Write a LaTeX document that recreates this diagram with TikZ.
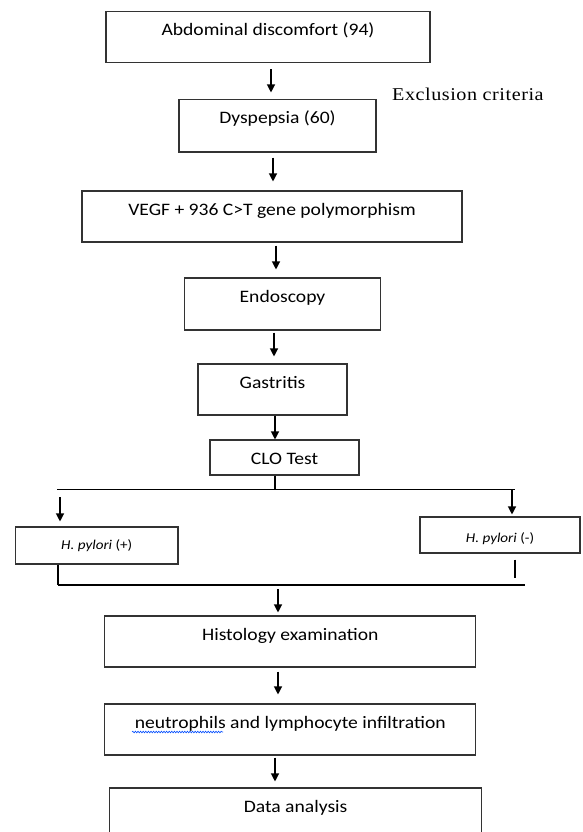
\documentclass[tikz,border=0pt]{standalone}
\usepackage{fontspec}
\setmainfont{Carlito}[FakeStretch=1.12]
\newfontfamily\exclfont{Liberation Serif}[FakeStretch=1.12,LetterSpace=3]
\usetikzlibrary{arrows.meta,decorations.pathmorphing}
\begin{document}
\begin{tikzpicture}[x=1pt,y=-1pt,
  box/.style={draw=black!80,line width=1.1pt,rectangle,inner xsep=0pt,inner ysep=0pt,
    minimum height=0pt,text height=24pt,text depth=27pt,
    font=\fontsize{17.5}{20}\selectfont,text=black},
  smallbox/.style={box,font=\fontsize{13.5}{16}\selectfont},
  conn/.style={draw=black,line width=1.2pt},
  arr/.style={conn,-{Triangle[length=8pt,width=8pt]}},
  wavy/.style={draw=blue!70!cyan,line width=0.6pt,decorate,
    decoration={snake,amplitude=0.8pt,segment length=2.6pt}}]
\useasboundingbox (0,0) rectangle (582,832);
\fill[white] (0,0) rectangle (582,832);
\clip (0,0) rectangle (582,832);

% boxes
\node[box,minimum width=324pt] (abd) at (268,37) {Abdominal discomfort (94)};
\node[box,minimum width=197pt,text depth=28.5pt] (dys) at (277.5,125.75) {Dyspepsia (60)};
\node[anchor=base west,font=\exclfont\fontsize{18}{20}\selectfont,text=black,inner sep=0pt] (excl) at (392,101) {Exclusion criteria};
\node[box,minimum width=380pt] (vegf) at (272,216.5) {VEGF + 936 C>T gene polymorphism};
\node[box,minimum width=196pt,text depth=28pt] (endo) at (282.5,304) {Endoscopy};
\node[box,minimum width=149pt] (gast) at (272.5,389.5) {Gastritis};
\node[box,minimum width=149pt,text depth=11pt] (clo) at (284.5,457.5) {CLO Test};
\node[smallbox,minimum width=162.5pt,text height=22pt,text depth=15pt] (hp) at (96.75,545.5) {\textit{H. pylori} (+)};
\node[smallbox,minimum width=160pt,text height=25pt,text depth=11pt] (hn) at (500,535) {\textit{H. pylori} (-)};
\node[box,minimum width=371pt] (hist) at (290.3,641.5) {Histology examination};
\node[box,minimum width=371pt] (neut) at (290.3,729.5) {neutrophils and lymphocyte infiltration};
\node[box,minimum width=372pt] (data) at (295.6,813.5) {Data analysis};

% helper coordinates
\coordinate (split) at (275,489.5);
\coordinate (lineL) at (57,489.5);
\coordinate (lineR) at (515,489.5);
\coordinate (arrL) at (60,497);
\coordinate (joinL) at (58,585);
\coordinate (joinR) at (525,585);
\coordinate (hnTail) at (515,578);
\coordinate (merge) at (278,589);

% connectors
\draw[arr,shorten <=6pt,shorten >=6.5pt] (271,0 |- abd.south) -- (271,0 |- dys.north);
\draw[arr,shorten <=5pt,shorten >=9pt] (273,0 |- dys.south) -- (273,0 |- vegf.north);
\draw[arr,shorten <=3pt,shorten >=8pt] (276,0 |- vegf.south) -- (276,0 |- endo.north);
\draw[arr,shorten <=2pt,shorten >=7pt] (274,0 |- endo.south) -- (274,0 |- gast.north);
\draw[arr] (275,0 |- gast.south) -- (275,0 |- clo.north);
\draw[conn] (split |- clo.south) -- (split);
\draw[conn] (lineL) -- (lineR);
\draw[arr,shorten >=5pt] (arrL) -- (arrL |- hp.north);
\draw[arr,shorten >=2pt] (512,0 |- split) -- (512,0 |- hn.north);
\draw[conn] (joinL |- hp.south) -- (joinL);
\draw[conn,shorten <=6pt] (hnTail |- hn.south) -- (hnTail);
\draw[conn] (joinL) -- (joinR);
\draw[arr,shorten >=3pt] (merge) -- (merge |- hist.north);
\draw[arr,shorten <=4pt,shorten >=9pt] (278,0 |- hist.south) -- (278,0 |- neut.north);
\draw[arr,shorten <=2pt,shorten >=6pt] (275,0 |- neut.south) -- (275,0 |- data.north);

% spell-check underline
\draw[wavy] (132,732) -- (223,732);
\end{tikzpicture}
\end{document}
